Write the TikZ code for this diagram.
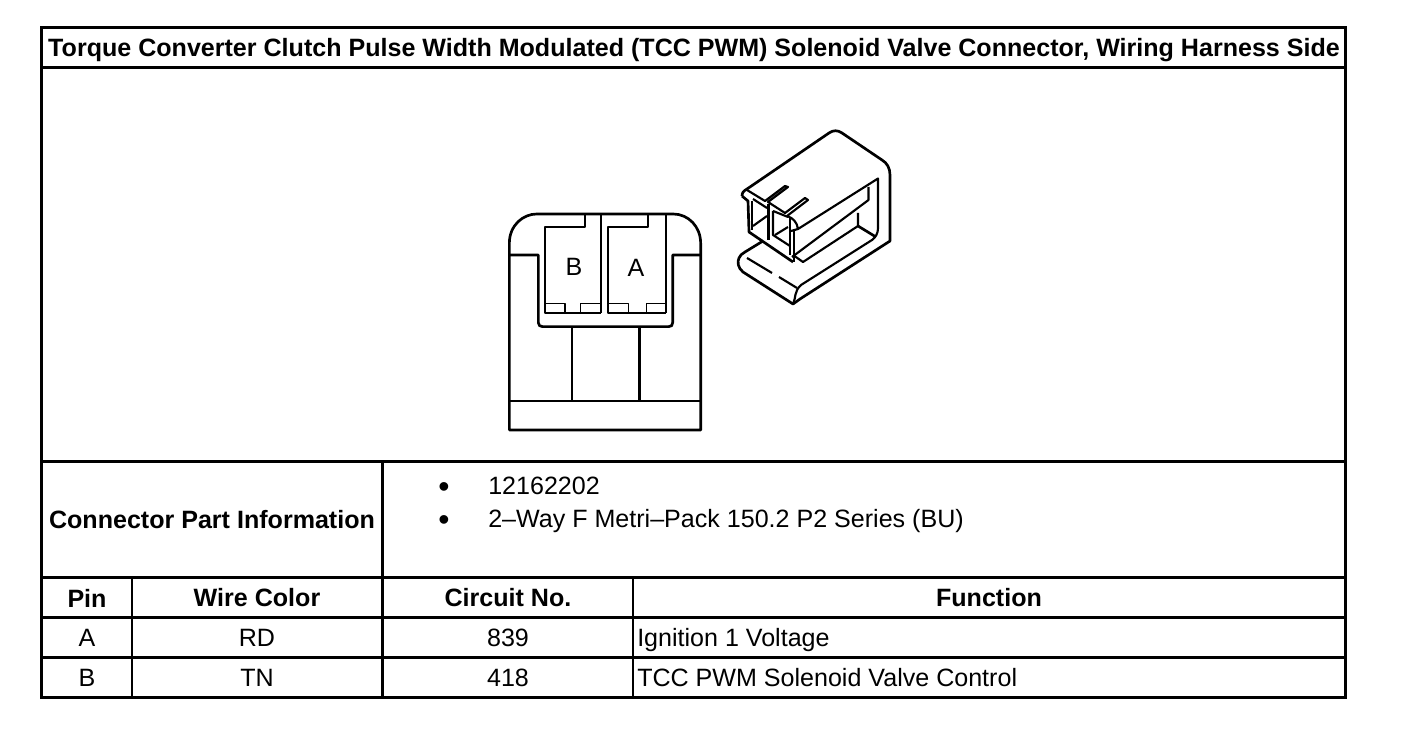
\documentclass[tikz,border=0pt]{standalone}
\usepackage{fontspec}
\setmainfont{Liberation Sans}
\tikzset{
  frameline/.style={line width=2.3pt,line cap=rect},
  cell/.style={line width=2pt},
  lab/.style={inner sep=0pt,font=\fontsize{18.8}{20}\selectfont},
  head/.style={inner sep=0pt,font=\fontsize{18.8}{20}\selectfont\bfseries},
  dotmark/.style={inner sep=0pt,font=\fontsize{24}{24}\selectfont},
  heavy/.style={line width=2pt,line join=round},
  thick1/.style={line width=1.6pt,line join=round},
  thin1/.style={line width=1pt,line join=round}
}
\begin{document}
\begin{tikzpicture}[x=.75pt,y=-.75pt]
\useasboundingbox (0,0) rectangle (1408,730);
\fill[white] (0,0) rectangle (1408,730);
% table
\draw[frameline] (41.5,27.5) rectangle (1345.5,697.5);
\draw[frameline] (41.5,67.5) -- (1345.5,67.5);
\draw[cell] (41.5,461.5) -- (1345.5,461.5);
\draw[frameline] (41.5,577.5) -- (1345.5,577.5);
\draw[cell] (41.5,617.5) -- (1345.5,617.5);
\draw[cell] (41.5,657.5) -- (1345.5,657.5);
\draw[frameline] (382.5,461.5) -- (382.5,697.5);
\draw[cell] (132,577.5) -- (132,697.5);
\draw[cell] (633,577.5) -- (633,697.5);
% texts
\node[head] (title) at (694,50.5) {Torque Converter Clutch Pulse Width Modulated (TCC PWM) Solenoid Valve Connector, Wiring Harness Side};
\node[head] (cpi) at (212,520) {Connector Part Information};
\node[lab,anchor=base west] (p1) at (488,494) {12162202};
\node[lab,anchor=base west] (p2) at (488,527) {2–Way F Metri–Pack 150.2 P2 Series (BU)};
\node[dotmark] (b1) at (444,490.5) {•};
\node[dotmark] (b2) at (444,523.5) {•};
\node[head] (h1) at (87,598) {Pin};
\node[head] (h2) at (257,598) {Wire Color};
\node[head] (h3) at (508,598) {Circuit No.};
\node[head] (h4) at (989,598) {Function};
\node[lab] (a1) at (87,638) {A};
\node[lab] (a2) at (257,638) {RD};
\node[lab] (a3) at (508,638) {839};
\node[lab,anchor=base west] (a4) at (637,646) {Ignition 1 Voltage};
\node[lab] (c1) at (87,678) {B};
\node[lab] (c2) at (257,678) {TN};
\node[lab] (c3) at (508,678) {418};
\node[lab,anchor=base west] (c4) at (637,686) {TCC PWM Solenoid Valve Control};
% front view (coordinates from a 3x view)
\begin{scope}[shift={(490,200)},x=.25pt,y=-.25pt]
\draw[heavy] (58,603) -- (58,130) .. controls (58,75) and (100,42) .. (140,42) -- (550,42) .. controls (595,42) and (632,80) .. (632,130) -- (632,690) -- (58,690) -- cycle;
\draw[heavy] (58,165) -- (145,165) -- (145,368) .. controls (145,376) and (150,380) .. (158,380) -- (536,380) .. controls (544,380) and (548,376) .. (548,368) -- (548,165) -- (632,165);
\draw[heavy] (58,603) -- (632,603);
\draw[thick1] (245,380) -- (245,603);
\draw[heavy] (448,380) -- (448,603);
\draw[thick1] (285,42) -- (285,82) -- (165,82) -- (165,338) -- (333,338);
\draw[heavy] (333,42) -- (333,338);
\draw[thick1] (475,42) -- (475,82) -- (355,82) -- (355,338) -- (528,338);
\draw[thin1] (528,338) -- (528,42);
\draw[thin1] (165,310) -- (225,310) -- (225,338);
\draw[thin1] (272,338) -- (272,310) -- (333,310);
\draw[thin1] (355,310) -- (415,310) -- (415,338);
\draw[thin1] (470,338) -- (470,310) -- (528,310);
\end{scope}
\node[lab] (pinb) at (574,267) {B};
\node[lab] (pina) at (636,268) {A};
% perspective view
% outer body
\draw[heavy] (742,196) .. controls (742,192) and (744,191) .. (747,189) -- (829,133) .. controls (833,130) and (838,130) .. (842,133) -- (882,160) .. controls (887,163) and (890,168) .. (890,175) -- (890,241) -- (800,299) -- (793,304) -- (743,272) .. controls (738,268) and (737,262) .. (739,258) .. controls (740,255) and (742,254) .. (745,252) -- (763,241);
% front left lip and bottom edge
\draw[heavy] (742,196) -- (748,201) -- (749,232) -- (793,262);
\draw[thin1] (752,201) -- (752,230);
\draw[thick1] (753,199) -- (767,208);
\draw[thick1] (753,226) -- (767,216);
% top surface and ribs
\draw[thick1] (747,190) -- (765,201) -- (785,186) -- (788,187) -- (768,202) -- (785,213) -- (805,198) -- (808,200) -- (787,216);
\draw[heavy] (768.5,204) -- (768.5,240);
\draw[thick1] (773,211) -- (773,235) -- (790,246);
\draw[thick1] (773,211) -- (788,217);
\draw[heavy] (790,218) -- (790,255);
\draw[thick1] (775,235) -- (788,227);
% curved end, opening and base front edge
\draw[thick1] (787,216) .. controls (793,218) and (797,222) .. (798,229) -- (878,178.5) -- (878,228) .. controls (878,233) and (876,237) .. (872,240) -- (801,285) .. controls (794,291) and (796,298) .. (793,304);
\draw[thick1] (791,231) -- (798,229);
\draw[heavy] (794,230) -- (794,262);
\draw[thick1] (868.5,187) -- (868.5,200) -- (792,257);
\draw[thick1] (858,213) -- (858,226) -- (803,262) -- (793,255);
\draw[heavy] (858,226) -- (876,237);
% base front
\draw[thick1] (747,258) -- (772,273);
\draw[thick1] (779,277) -- (797,288);
\end{tikzpicture}
\end{document}
